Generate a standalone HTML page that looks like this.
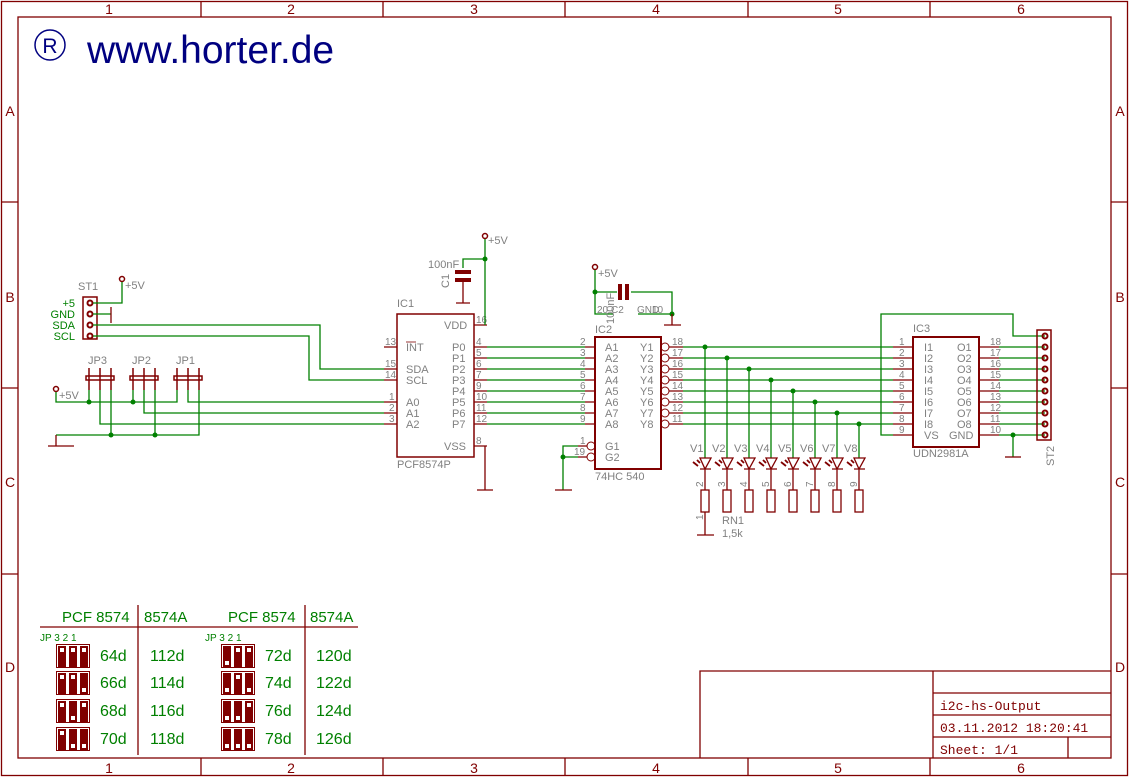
<!DOCTYPE html>
<html><head><meta charset="utf-8"><style>
html,body{margin:0;padding:0;background:#fff;}
svg{display:block;}
text{font-family:"Liberation Sans",sans-serif;}
.r{stroke:#800000;fill:none;}
.g{stroke:#008000;fill:none;stroke-width:1.3;}
.gr{fill:#808080;font-size:11px;}
.pn{fill:#808080;font-size:10px;}
.gt{fill:#008000;}
.tb{fill:#800000;font-family:"Liberation Mono",monospace;font-size:13px;}
</style></head><body>
<svg width="1130" height="778" viewBox="0 0 1130 778" xmlns="http://www.w3.org/2000/svg">
<g class="r" stroke-width="1.3">
<rect x="1.5" y="1.5" width="1126" height="774"/>
<rect x="18" y="17" width="1093" height="741"/>
<path d="M201 1.5V17M383 1.5V17M565 1.5V17M748 1.5V17M930 1.5V17M201 758V776M383 758V776M565 758V776M748 758V776M930 758V776M1.5 202H18M1.5 388H18M1.5 574H18M1111 202H1128M1111 388H1128M1111 574H1128"/>
<path d="M700 758V671H1111M933 671V758M933 693H1111M933 715H1111M933 737H1111M1068 737V758"/>
</g>
<g fill="#800000" font-size="14" text-anchor="middle">
<text x="109" y="14">1</text><text x="291" y="14">2</text><text x="474" y="14">3</text><text x="656" y="14">4</text><text x="838" y="14">5</text><text x="1021" y="14">6</text>
<text x="109" y="773">1</text><text x="291" y="773">2</text><text x="474" y="773">3</text><text x="656" y="773">4</text><text x="838" y="773">5</text><text x="1021" y="773">6</text>
<text x="10" y="116">A</text><text x="10" y="302">B</text><text x="10" y="487">C</text><text x="10" y="672">D</text>
<text x="1120" y="116">A</text><text x="1120" y="302">B</text><text x="1120" y="487">C</text><text x="1120" y="672">D</text>
</g>
<text class="tb" x="940" y="710">i2c-hs-Output</text>
<text class="tb" x="940" y="732">03.11.2012 18:20:41</text>
<text class="tb" x="940" y="754">Sheet: 1/1</text>
<circle cx="50" cy="45" r="15" fill="none" stroke="#000080" stroke-width="1.5"/>
<text x="50" y="53" fill="#000080" font-size="21" text-anchor="middle">R</text>
<text x="87" y="63" fill="#000080" font-size="39">www.horter.de</text>

<rect class="r" x="83" y="297" width="14" height="42" stroke-width="1.5"/>
<g class="r" stroke-width="2"><circle cx="90" cy="303" r="2.5"/><circle cx="90" cy="314" r="2.5"/><circle cx="90" cy="325" r="2.5"/><circle cx="90" cy="336" r="2.5"/></g>
<text class="gr" x="78" y="290">ST1</text>
<g class="gt" font-size="11" text-anchor="end"><text x="75" y="307">+5</text><text x="75" y="318">GND</text><text x="75" y="329">SDA</text><text x="75" y="340">SCL</text></g>
<circle class="r" cx="122" cy="279" r="2.5" stroke-width="1.5"/><text class="gr" x="125" y="289">+5V</text>
<path class="g" d="M122 282V303H93M93 314H111M93 325H320V369H384M93 336H309V380H384"/>
<path class="r" d="M111 307V323" stroke-width="1.3"/>

<g class="r" stroke-width="1.5">
<rect x="86" y="376" width="28" height="4" fill="#fff"/><rect x="130" y="376" width="28" height="4"/><rect x="174" y="376" width="28" height="4"/>
<path d="M89 368V390M100 368V390M111 368V390M133 368V390M144 368V390M155 368V390M177 368V390M188 368V390M199 368V390"/>
</g>
<g class="gr" font-size="12"><text x="88" y="364">JP3</text><text x="132" y="364">JP2</text><text x="176" y="364">JP1</text></g>
<circle class="r" cx="56" cy="389" r="2.5" stroke-width="1.5"/><text class="gr" x="59" y="399">+5V</text>
<path class="g" d="M56 392V402H177V390M89 390V402M133 390V402M188 390V402H384M144 390V413H384M100 390V424H384M56 435H199V390M111 390V435M155 390V435"/>
<path class="r" d="M48 446H74M56 435V446" stroke-width="1.3"/>
<g fill="#008000"><circle cx="89" cy="402" r="2.5"/><circle cx="133" cy="402" r="2.5"/><circle cx="111" cy="435" r="2.5"/><circle cx="155" cy="435" r="2.5"/></g>

<rect class="r" x="397" y="314" width="77" height="143" stroke-width="1.5"/>
<path class="r" stroke-width="1.3" d="M384 347H397M384 369H397M384 380H397M384 402H397M384 413H397M384 424H397M474 325H487M474 347H487M474 358H487M474 369H487M474 380H487M474 391H487M474 402H487M474 413H487M474 424H487M474 446H487"/>
<text class="gr" x="397" y="307">IC1</text><text class="gr" x="397" y="468">PCF8574P</text>
<g class="pn"><text x="385" y="345">13</text><text x="385" y="367">15</text><text x="385" y="378">14</text><text x="389" y="400">1</text><text x="389" y="411">2</text><text x="389" y="422">3</text>
<text x="476" y="323">16</text><text x="476" y="345">4</text><text x="476" y="356">5</text><text x="476" y="367">6</text><text x="476" y="378">7</text><text x="476" y="389">9</text><text x="476" y="400">10</text><text x="476" y="411">11</text><text x="476" y="422">12</text><text x="476" y="444">8</text></g>
<g class="gr" font-size="10"><text x="406" y="351">INT</text><text x="406" y="373">SDA</text><text x="406" y="384">SCL</text><text x="406" y="406">A0</text><text x="406" y="417">A1</text><text x="406" y="428">A2</text>
<text x="444" y="329">VDD</text><text x="452" y="351">P0</text><text x="452" y="362">P1</text><text x="452" y="373">P2</text><text x="452" y="384">P3</text><text x="452" y="395">P4</text><text x="452" y="406">P5</text><text x="452" y="417">P6</text><text x="452" y="428">P7</text><text x="444" y="450">VSS</text></g>
<path class="r" d="M406 342H416" stroke-width="0.8"/>
<circle class="r" cx="485" cy="236" r="2.5" stroke-width="1.5"/><text class="gr" x="488" y="244">+5V</text>
<path class="g" d="M485 239V325M485 259H463V268"/>
<circle fill="#008000" cx="485" cy="259" r="2.5"/>
<g fill="#800000"><rect x="455" y="270" width="16" height="4"/><rect x="455" y="278" width="16" height="4"/></g>
<path class="r" stroke-width="1.3" d="M463 282V303M456 303H470M485 446V490M477 490H493"/>
<text class="gr" x="428" y="268">100nF</text>
<text class="gr" transform="translate(449,288) rotate(-90)">C1</text>

<path class="g" d="M487 347H585M487 358H585M487 369H585M487 380H585M487 391H585M487 402H585M487 413H585M487 424H585"/>

<rect class="r" x="595" y="337" width="66" height="132" stroke-width="2"/>
<path class="r" stroke-width="1.3" d="M585 347H595M585 358H595M585 369H595M585 380H595M585 391H595M585 402H595M585 413H595M585 424H595M578 446H587M578 457H587M669 347H683M669 358H683M669 369H683M669 380H683M669 391H683M669 402H683M669 413H683M669 424H683"/>
<g class="r" stroke-width="1"><circle cx="665" cy="347" r="4"/><circle cx="665" cy="358" r="4"/><circle cx="665" cy="369" r="4"/><circle cx="665" cy="380" r="4"/><circle cx="665" cy="391" r="4"/><circle cx="665" cy="402" r="4"/><circle cx="665" cy="413" r="4"/><circle cx="665" cy="424" r="4"/><circle cx="591" cy="446" r="4"/><circle cx="591" cy="457" r="4"/></g>
<text class="gr" x="595" y="333">IC2</text><text class="gr" x="595" y="480">74HC 540</text>
<g class="pn"><text x="580" y="345">2</text><text x="580" y="356">3</text><text x="580" y="367">4</text><text x="580" y="378">5</text><text x="580" y="389">6</text><text x="580" y="400">7</text><text x="580" y="411">8</text><text x="580" y="422">9</text><text x="580" y="444">1</text><text x="574" y="455">19</text>
<text x="672" y="345">18</text><text x="672" y="356">17</text><text x="672" y="367">16</text><text x="672" y="378">15</text><text x="672" y="389">14</text><text x="672" y="400">13</text><text x="672" y="411">12</text><text x="672" y="422">11</text></g>
<g class="gr" font-size="10"><text x="605" y="351">A1</text><text x="605" y="362">A2</text><text x="605" y="373">A3</text><text x="605" y="384">A4</text><text x="605" y="395">A5</text><text x="605" y="406">A6</text><text x="605" y="417">A7</text><text x="605" y="428">A8</text><text x="605" y="450">G1</text><text x="605" y="461">G2</text>
<text x="640" y="351">Y1</text><text x="640" y="362">Y2</text><text x="640" y="373">Y3</text><text x="640" y="384">Y4</text><text x="640" y="395">Y5</text><text x="640" y="406">Y6</text><text x="640" y="417">Y7</text><text x="640" y="428">Y8</text></g>
<path class="g" d="M578 446H563V490M563 457H578"/>
<circle fill="#008000" cx="563" cy="457" r="2.5"/>
<path class="r" d="M555 490H572" stroke-width="1.3"/>
<circle class="r" cx="595" cy="267" r="2.5" stroke-width="1.5"/><text class="gr" x="598" y="277">+5V</text>
<path class="g" d="M595 270V314H613M595 292H617M631 292H672V314M638 314H672"/>
<circle fill="#008000" cx="595" cy="292" r="2.5"/><circle fill="#008000" cx="672" cy="314" r="2.5"/>
<g fill="#800000"><rect x="618" y="284" width="4" height="16"/><rect x="625" y="284" width="4" height="16"/></g>
<path class="r" d="M672 314V325M664 325H681" stroke-width="1.3"/>
<g class="pn" font-size="9"><text x="597" y="313">20</text><text x="611" y="313">C2</text><text x="637" y="313">GND</text><text x="652" y="313">10</text></g>
<text class="gr" font-size="10" transform="translate(614,324) rotate(-90)">100nF</text>

<path class="g" d="M683 347H893M683 358H893M683 369H893M683 380H893M683 391H893M683 402H893M683 413H893M683 424H893"/>
<g fill="#008000"><circle cx="705" cy="347" r="2.5"/><circle cx="727" cy="358" r="2.5"/><circle cx="749" cy="369" r="2.5"/><circle cx="771" cy="380" r="2.5"/><circle cx="793" cy="391" r="2.5"/><circle cx="815" cy="402" r="2.5"/><circle cx="837" cy="413" r="2.5"/><circle cx="859" cy="424" r="2.5"/></g>
<path class="g" d="M705 347V458M727 358V458M749 369V458M771 380V458M793 391V458M815 402V458M837 413V458M859 424V458"/>
<g class="r" stroke-width="1.3">
<path d="M700 458H711L705 469ZM700 469H711M705 469V490M722 458H733L727 469ZM722 469H733M727 469V490M744 458H755L749 469ZM744 469H755M749 469V490M766 458H777L771 469ZM766 469H777M771 469V490M788 458H799L793 469ZM788 469H799M793 469V490M810 458H821L815 469ZM810 469H821M815 469V490M832 458H843L837 469ZM832 469H843M837 469V490M854 458H865L859 469ZM854 469H865M859 469V490"/>
<path d="M693 462l5 4M697 460l3 3M715 462l5 4M719 460l3 3M737 462l5 4M741 460l3 3M759 462l5 4M763 460l3 3M781 462l5 4M785 460l3 3M803 462l5 4M807 460l3 3M825 462l5 4M829 460l3 3M847 462l5 4M851 460l3 3" stroke-width="1.8"/>
<rect x="701" y="490" width="8" height="22"/><rect x="723" y="490" width="8" height="22"/><rect x="745" y="490" width="8" height="22"/><rect x="767" y="490" width="8" height="22"/><rect x="789" y="490" width="8" height="22"/><rect x="811" y="490" width="8" height="22"/><rect x="833" y="490" width="8" height="22"/><rect x="855" y="490" width="8" height="22"/>
<path d="M705 512V535M697 535H714"/>
</g>
<g class="gr" font-size="12"><text x="690" y="452">V1</text><text x="712" y="452">V2</text><text x="734" y="452">V3</text><text x="756" y="452">V4</text><text x="778" y="452">V5</text><text x="800" y="452">V6</text><text x="822" y="452">V7</text><text x="844" y="452">V8</text></g>
<g class="pn" font-size="9"><text transform="translate(703,487) rotate(-90)">2</text><text transform="translate(725,487) rotate(-90)">3</text><text transform="translate(747,487) rotate(-90)">4</text><text transform="translate(769,487) rotate(-90)">5</text><text transform="translate(791,487) rotate(-90)">6</text><text transform="translate(813,487) rotate(-90)">7</text><text transform="translate(835,487) rotate(-90)">8</text><text transform="translate(857,487) rotate(-90)">9</text><text transform="translate(703,520) rotate(-90)">1</text></g>
<text class="gr" x="722" y="524">RN1</text><text class="gr" x="722" y="537">1,5k</text>

<rect class="r" x="913" y="337" width="66" height="110" stroke-width="2"/>
<path class="r" stroke-width="1.3" d="M893 347H913M893 358H913M893 369H913M893 380H913M893 391H913M893 402H913M893 413H913M893 424H913M893 435H913M979 347H999M979 358H999M979 369H999M979 380H999M979 391H999M979 402H999M979 413H999M979 424H999M979 435H999"/>
<text class="gr" x="913" y="332">IC3</text><text class="gr" x="913" y="457">UDN2981A</text>
<g class="pn"><text x="899" y="345">1</text><text x="899" y="356">2</text><text x="899" y="367">3</text><text x="899" y="378">4</text><text x="899" y="389">5</text><text x="899" y="400">6</text><text x="899" y="411">7</text><text x="899" y="422">8</text><text x="899" y="433">9</text>
<text x="990" y="345">18</text><text x="990" y="356">17</text><text x="990" y="367">16</text><text x="990" y="378">15</text><text x="990" y="389">14</text><text x="990" y="400">13</text><text x="990" y="411">12</text><text x="990" y="422">11</text><text x="990" y="433">10</text></g>
<g class="gr" font-size="10"><text x="924" y="351">I1</text><text x="924" y="362">I2</text><text x="924" y="373">I3</text><text x="924" y="384">I4</text><text x="924" y="395">I5</text><text x="924" y="406">I6</text><text x="924" y="417">I7</text><text x="924" y="428">I8</text><text x="924" y="439">VS</text>
<text x="957" y="351">O1</text><text x="957" y="362">O2</text><text x="957" y="373">O3</text><text x="957" y="384">O4</text><text x="957" y="395">O5</text><text x="957" y="406">O6</text><text x="957" y="417">O7</text><text x="957" y="428">O8</text><text x="949" y="439">GND</text></g>
<path class="g" d="M893 435H881V314H1013V336H1045M999 347H1045M999 358H1045M999 369H1045M999 380H1045M999 391H1045M999 402H1045M999 413H1045M999 424H1045M999 435H1045M1013 435V457"/>
<circle fill="#008000" cx="1013" cy="435" r="2.5"/>
<path class="r" d="M1005 457H1021" stroke-width="1.3"/>
<rect class="r" x="1037" y="330" width="14" height="110" stroke-width="1.5"/>
<g class="r" stroke-width="2"><circle cx="1045" cy="336" r="2.5"/><circle cx="1045" cy="347" r="2.5"/><circle cx="1045" cy="358" r="2.5"/><circle cx="1045" cy="369" r="2.5"/><circle cx="1045" cy="380" r="2.5"/><circle cx="1045" cy="391" r="2.5"/><circle cx="1045" cy="402" r="2.5"/><circle cx="1045" cy="413" r="2.5"/><circle cx="1045" cy="424" r="2.5"/><circle cx="1045" cy="435" r="2.5"/></g>
<text class="gr" transform="translate(1054,466) rotate(-90)">ST2</text>

<path class="r" stroke-width="1.3" d="M138 605V755M305 605V755M40 627H358"/>
<g class="gt" font-size="15"><text x="62" y="622">PCF 8574</text><text x="144" y="622">8574A</text><text x="228" y="622">PCF 8574</text><text x="310" y="622">8574A</text></g>
<g class="gt" font-size="16"><text x="100" y="661">64d</text><text x="150" y="661">112d</text><text x="265" y="661">72d</text><text x="316" y="661">120d</text>
<text x="100" y="688">66d</text><text x="150" y="688">114d</text><text x="265" y="688">74d</text><text x="316" y="688">122d</text>
<text x="100" y="716">68d</text><text x="150" y="716">116d</text><text x="265" y="716">76d</text><text x="316" y="716">124d</text>
<text x="100" y="744">70d</text><text x="150" y="744">118d</text><text x="265" y="744">78d</text><text x="316" y="744">126d</text></g>
<g class="gt" font-size="10"><text x="40" y="641">JP  3  2  1</text><text x="205" y="641">JP  3  2  1</text></g>
<defs>
<g id="ct"><rect x="0" y="0" width="8" height="21" fill="#800000"/><rect x="2" y="2" width="4" height="4" fill="#fff"/></g>
<g id="cb"><rect x="0" y="0" width="8" height="21" fill="#800000"/><rect x="2" y="15" width="4" height="4" fill="#fff"/></g>
</defs>
<g stroke="#800000" stroke-width="1" fill="none">
<rect x="56.5" y="644.5" width="33" height="23"/><rect x="56.5" y="671.5" width="33" height="23"/><rect x="56.5" y="699.5" width="33" height="23"/><rect x="56.5" y="727.5" width="33" height="23"/>
<rect x="221.5" y="644.5" width="33" height="23"/><rect x="221.5" y="671.5" width="33" height="23"/><rect x="221.5" y="699.5" width="33" height="23"/><rect x="221.5" y="727.5" width="33" height="23"/>
</g>
<use href="#ct" x="58" y="646"/><use href="#ct" x="69" y="646"/><use href="#ct" x="80" y="646"/>
<use href="#ct" x="58" y="673"/><use href="#ct" x="69" y="673"/><use href="#cb" x="80" y="673"/>
<use href="#ct" x="58" y="701"/><use href="#cb" x="69" y="701"/><use href="#ct" x="80" y="701"/>
<use href="#ct" x="58" y="729"/><use href="#cb" x="69" y="729"/><use href="#cb" x="80" y="729"/>
<use href="#cb" x="223" y="646"/><use href="#ct" x="234" y="646"/><use href="#ct" x="245" y="646"/>
<use href="#cb" x="223" y="673"/><use href="#ct" x="234" y="673"/><use href="#cb" x="245" y="673"/>
<use href="#cb" x="223" y="701"/><use href="#cb" x="234" y="701"/><use href="#ct" x="245" y="701"/>
<use href="#cb" x="223" y="729"/><use href="#cb" x="234" y="729"/><use href="#cb" x="245" y="729"/>
</svg>
</body></html>
